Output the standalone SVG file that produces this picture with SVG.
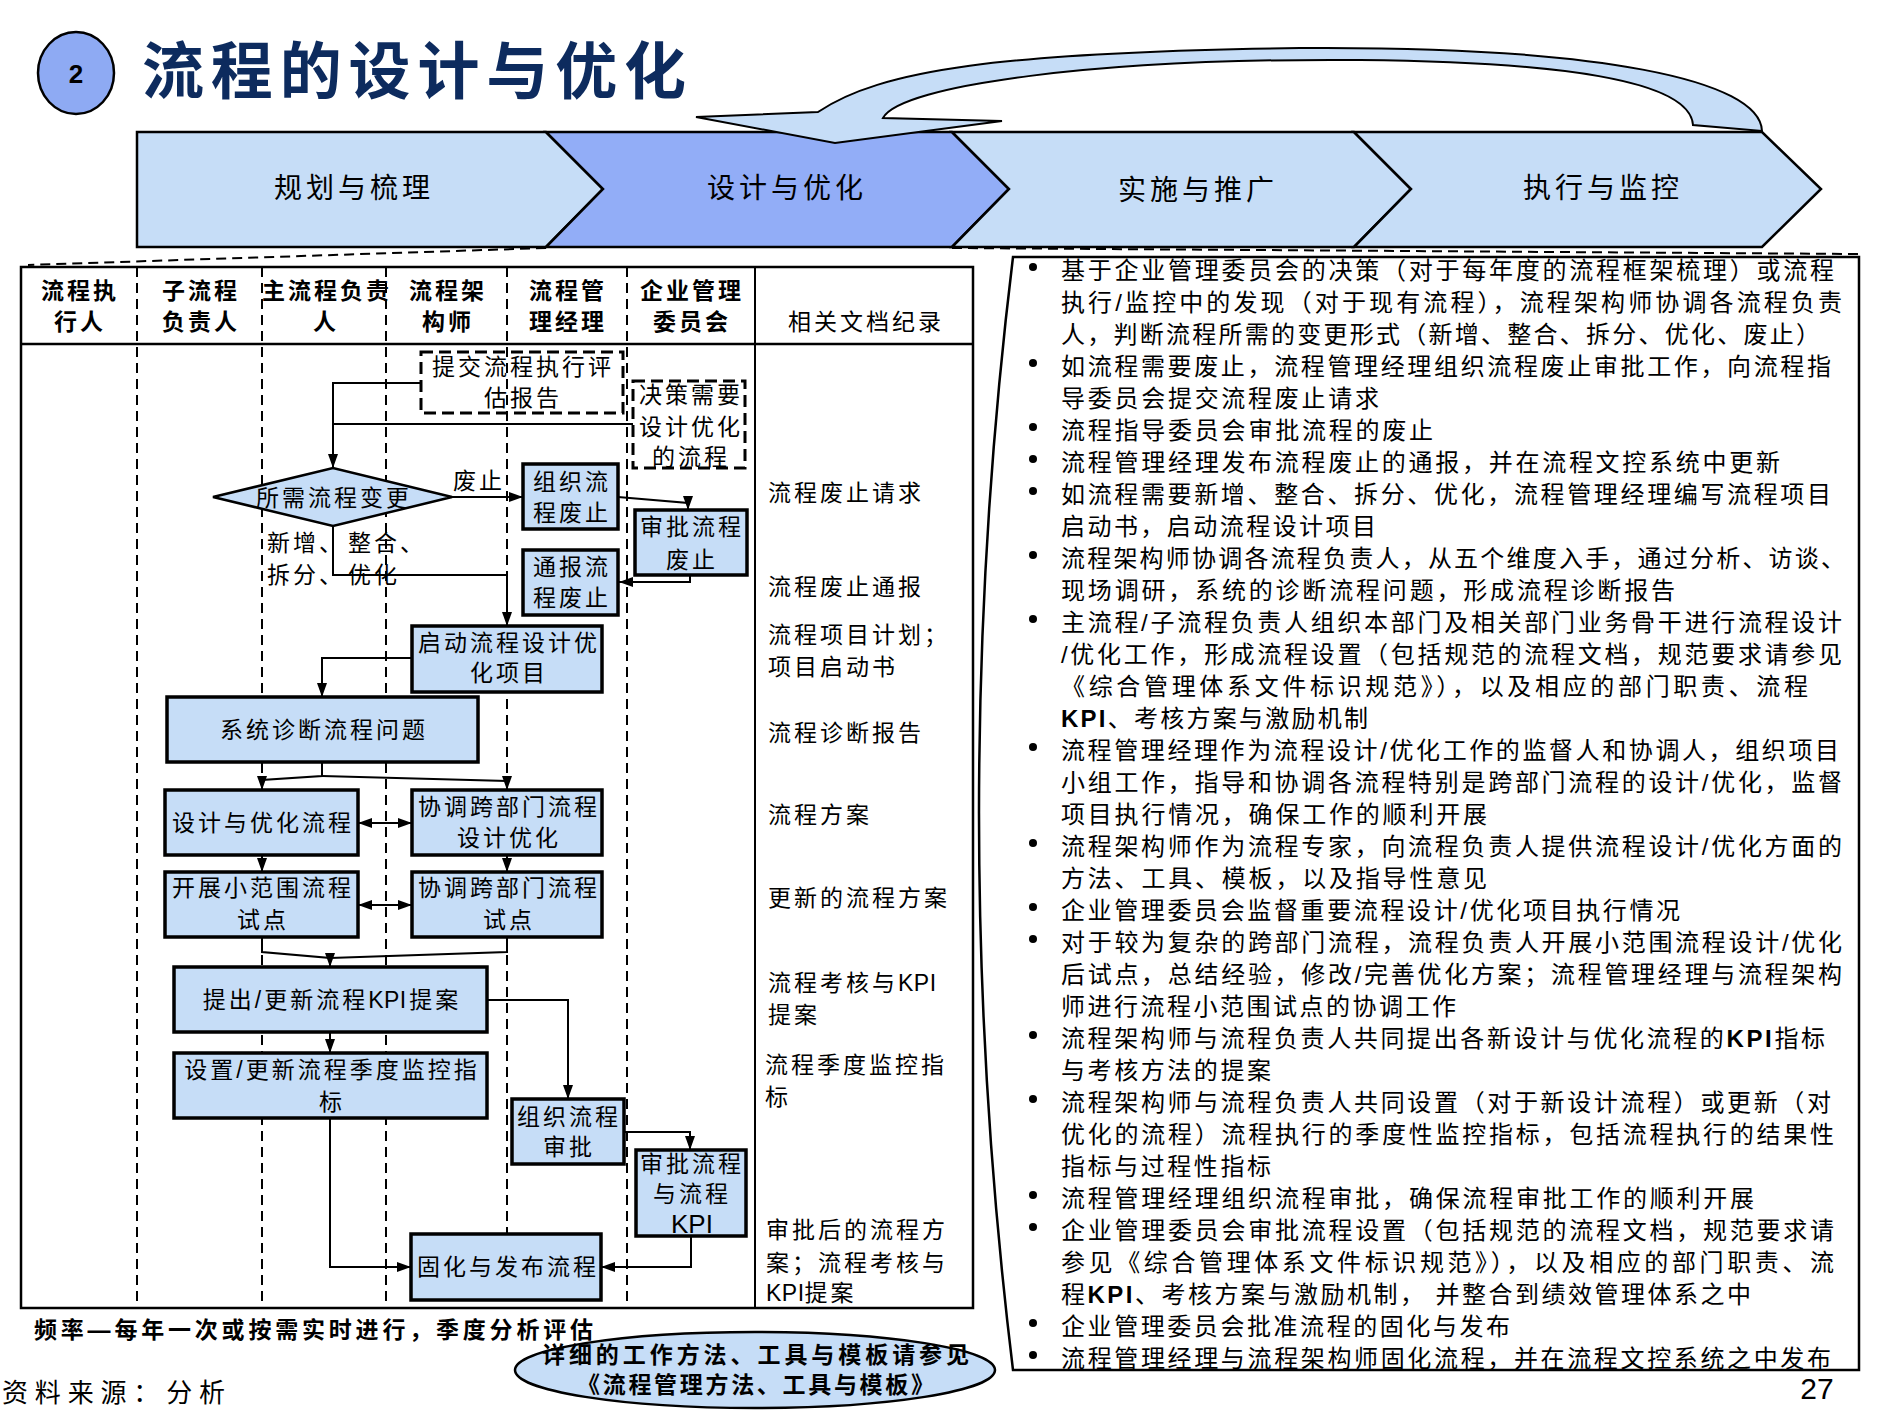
<svg xmlns="http://www.w3.org/2000/svg" width="1881" height="1411" viewBox="0 0 1881 1411">
<defs>
<style>
text{font-family:'Liberation Sans','Noto Sans CJK SC',sans-serif;fill:#000;dominant-baseline:central}
.nt{font-size:23px;letter-spacing:3px;text-anchor:middle}
.hd{font-size:23px;font-weight:bold;letter-spacing:3px;text-anchor:middle}
.dt{font-size:23px;letter-spacing:3px}
.bl{font-size:24px}
.ch{font-size:28px;letter-spacing:4px;text-anchor:middle}
.box{fill:#c6ddf7;stroke:#000;stroke-width:3.5}
.dbox{fill:none;stroke:#000;stroke-width:3;stroke-dasharray:12 6}
.col{stroke:#000;stroke-width:2;stroke-dasharray:10 6}
.cn{fill:none;stroke:#000;stroke-width:2}
.chev{fill:#c6ddf7;stroke:#000;stroke-width:2.5}
.kb{font-weight:bold}
.k0{letter-spacing:0.5px}
</style>
<marker id="ah" viewBox="0 0 14 10" refX="14" refY="5" markerWidth="14" markerHeight="10" markerUnits="userSpaceOnUse" orient="auto-start-reverse">
<path d="M0,0 L14,5 L0,10 Z" fill="#000"/>
</marker>
</defs>
<rect width="1881" height="1411" fill="#fff"/>

<g id="title">
<ellipse cx="76" cy="73" rx="38" ry="41" fill="#8eaaf3" stroke="#000" stroke-width="2.5"/>
<text x="76" y="74" font-size="26" font-weight="bold" text-anchor="middle">2</text>
<text x="142" y="72" font-size="62" font-weight="bold" style="fill:#0d2b5e" textLength="544" lengthAdjust="spacing">流程的设计与优化</text>
</g>

<g id="phases">
<path class="chev" d="M137,132 H546 L603,189 L546,247 H137 Z"/>
<path class="chev" style="fill:#92adf7" d="M546,132 H952 L1009,189 L952,247 H546 L603,189 Z"/>
<path class="chev" d="M952,132 H1354 L1411,189 L1354,247 H952 L1009,189 Z"/>
<path class="chev" d="M1354,132 H1762 L1821,189 L1762,247 H1354 L1411,189 Z"/>
<text class="ch" x="354" y="188">规划与梳理</text>
<text class="ch" x="787" y="188">设计与优化</text>
<text class="ch" x="1198" y="190">实施与推广</text>
<text class="ch" x="1603" y="188">执行与监控</text>
<path d="M818,112 C880,70 1000,52 1300,48 C1600,46 1760,80 1762,131 L1693,125 C1690,80 1560,62 1360,60 C1100,58 900,85 883,118 L1002,121 L835,143 L696,117 Z" fill="#c6ddf7" stroke="#000" stroke-width="2"/>
<line class="col" x1="546" y1="248" x2="28" y2="265"/>
<line class="col" x1="952" y1="248" x2="1858" y2="254"/>
</g>

<g id="table">
<rect x="21" y="267" width="952" height="1041" fill="none" stroke="#000" stroke-width="2.5"/>
<line x1="21" y1="344" x2="973" y2="344" stroke="#000" stroke-width="2.5"/>
<line x1="755" y1="267" x2="755" y2="1308" stroke="#000" stroke-width="2"/>
<line class="col" x1="137" y1="267" x2="137" y2="1308"/>
<line class="col" x1="262" y1="267" x2="262" y2="1308"/>
<line class="col" x1="386" y1="267" x2="386" y2="1308"/>
<line class="col" x1="507" y1="267" x2="507" y2="1308"/>
<line class="col" x1="627" y1="267" x2="627" y2="1308"/>
<text class="hd" x="80" y="291">流程执</text><text class="hd" x="80" y="322">行人</text>
<text class="hd" x="201" y="291">子流程</text><text class="hd" x="201" y="322">负责人</text>
<text class="hd" x="327" y="291">主流程负责</text><text class="hd" x="326" y="322">人</text>
<text class="hd" x="448" y="291">流程架</text><text class="hd" x="448" y="322">构师</text>
<text class="hd" x="568" y="291">流程管</text><text class="hd" x="568" y="322">理经理</text>
<text class="hd" x="692" y="291">企业管理</text><text class="hd" x="692" y="322">委员会</text>
<text class="nt" x="866" y="322">相关文档纪录</text>
</g>

<g id="connectors">
<path class="cn" d="M421,383 H333 V468" marker-end="url(#ah)"/>
<path class="cn" d="M633,424 H333"/>
<path class="cn" d="M452,497 H523" marker-end="url(#ah)"/>
<path class="cn" d="M618,497 L688,503 V510" marker-end="url(#ah)"/>
<path class="cn" d="M690,575 V582 H619" marker-end="url(#ah)"/>
<path class="cn" d="M333,526 V575 H507 V626" marker-end="url(#ah)"/>
<path class="cn" d="M412,658 H322 V697" marker-end="url(#ah)"/>
<path class="cn" d="M322,762 V776 L262,780 V790" marker-end="url(#ah)"/>
<path class="cn" d="M322,776 L507,781 V790" marker-end="url(#ah)"/>
<path class="cn" d="M358,823 H412" marker-start="url(#ah)" marker-end="url(#ah)"/>
<path class="cn" d="M262,855 V872" marker-end="url(#ah)"/>
<path class="cn" d="M507,855 V872" marker-end="url(#ah)"/>
<path class="cn" d="M358,905 H412" marker-start="url(#ah)" marker-end="url(#ah)"/>
<path class="cn" d="M262,937 V952 L330,958 V967" marker-end="url(#ah)"/>
<path class="cn" d="M507,937 V952 L330,958"/>
<path class="cn" d="M330,1032 V1053" marker-end="url(#ah)"/>
<path class="cn" d="M487,1000 H568 V1099" marker-end="url(#ah)"/>
<path class="cn" d="M624,1132 H690 V1150" marker-end="url(#ah)"/>
<path class="cn" d="M330,1118 V1267 H411" marker-end="url(#ah)"/>
<path class="cn" d="M691,1236 V1267 H601" marker-end="url(#ah)"/>
<text class="nt" x="479" y="481">废止</text>
<text class="dt" x="267" y="543">新增、</text>
<text class="dt" x="267" y="575">拆分、</text>
<text class="dt" x="348" y="543">整合、</text>
<text class="dt" x="348" y="575">优化</text>
</g>

<g id="n-report">
<rect class="dbox" x="421" y="352" width="202" height="61"/>
<text class="nt" x="523" y="367">提交流程执行评</text>
<text class="nt" x="523" y="398">估报告</text>
</g>
<g id="n-decision">
<rect class="dbox" x="633" y="381" width="112" height="87"/>
<text class="nt" x="691" y="395">决策需要</text>
<text class="nt" x="691" y="427">设计优化</text>
<text class="nt" x="691" y="457">的流程</text>
</g>
<g id="n-change">
<path class="box" style="stroke-width:2.5" d="M213,497 L333,468 L452,497 L333,526 Z"/>
<text class="nt" x="334" y="498">所需流程变更</text>
</g>
<g id="n-org-abolish">
<rect class="box" x="523" y="464" width="95" height="65"/>
<text class="nt" x="572" y="482">组织流</text>
<text class="nt" x="572" y="513">程废止</text>
</g>
<g id="n-approve-abolish">
<rect class="box" x="635" y="510" width="112" height="65"/>
<text class="nt" x="692" y="527">审批流程</text>
<text class="nt" x="692" y="560">废止</text>
</g>
<g id="n-notify-abolish">
<rect class="box" x="523" y="550" width="95" height="65"/>
<text class="nt" x="572" y="567">通报流</text>
<text class="nt" x="572" y="598">程废止</text>
</g>
<g id="n-start">
<rect class="box" x="412" y="626" width="190" height="66"/>
<text class="nt" x="509" y="643">启动流程设计优</text>
<text class="nt" x="509" y="673">化项目</text>
</g>
<g id="n-diagnose">
<rect class="box" x="167" y="697" width="311" height="65"/>
<text class="nt" x="324" y="730">系统诊断流程问题</text>
</g>
<g id="n-design">
<rect class="box" x="165" y="790" width="193" height="65"/>
<text class="nt" x="263" y="823">设计与优化流程</text>
</g>
<g id="n-coord-design">
<rect class="box" x="412" y="790" width="190" height="65"/>
<text class="nt" x="509" y="807">协调跨部门流程</text>
<text class="nt" x="509" y="838">设计优化</text>
</g>
<g id="n-pilot">
<rect class="box" x="165" y="872" width="193" height="65"/>
<text class="nt" x="263" y="888">开展小范围流程</text>
<text class="nt" x="263" y="920">试点</text>
</g>
<g id="n-coord-pilot">
<rect class="box" x="412" y="872" width="190" height="65"/>
<text class="nt" x="509" y="888">协调跨部门流程</text>
<text class="nt" x="509" y="920">试点</text>
</g>
<g id="n-kpi">
<rect class="box" x="174" y="967" width="313" height="65"/>
<text class="nt" x="332" y="1000">提出/更新流程<tspan class="k0">KP</tspan>I提案</text>
</g>
<g id="n-monitor">
<rect class="box" x="174" y="1053" width="313" height="65"/>
<text class="nt" x="332" y="1070">设置/更新流程季度监控指</text>
<text class="nt" x="332" y="1102">标</text>
</g>
<g id="n-org-approve">
<rect class="box" x="512" y="1099" width="112" height="65"/>
<text class="nt" x="569" y="1117">组织流程</text>
<text class="nt" x="569" y="1147">审批</text>
</g>
<g id="n-approve-kpi">
<rect class="box" x="636" y="1150" width="110" height="86"/>
<text class="nt" x="692" y="1164">审批流程</text>
<text class="nt" x="692" y="1194">与流程</text>
<text class="nt" x="692" y="1224" style="font-size:26px;letter-spacing:0">KPI</text>
</g>
<g id="n-publish">
<rect class="box" x="411" y="1234" width="190" height="66"/>
<text class="nt" x="508" y="1267">固化与发布流程</text>
</g>

<g id="docs">
<text class="dt" x="768" y="493">流程废止请求</text>
<text class="dt" x="768" y="587">流程废止通报</text>
<text class="dt" x="768" y="635">流程项目计划；</text>
<text class="dt" x="768" y="667">项目启动书</text>
<text class="dt" x="768" y="733">流程诊断报告</text>
<text class="dt" x="768" y="815">流程方案</text>
<text class="dt" x="768" y="898">更新的流程方案</text>
<text class="dt" x="768" y="983">流程考核与<tspan class="k0">KPI</tspan></text>
<text class="dt" x="768" y="1015">提案</text>
<text class="dt" x="765" y="1065">流程季度监控指</text>
<text class="dt" x="765" y="1097">标</text>
<text class="dt" x="766" y="1230">审批后的流程方</text>
<text class="dt" x="766" y="1263">案；流程考核与</text>
<text class="dt" x="766" y="1293"><tspan class="k0">KPI</tspan>提案</text>
</g>

<g id="notes">
<path d="M1013,257 H1859 V1370 H1013 Q945,813 1013,257 Z" fill="#fff" stroke="#000" stroke-width="2.5"/>
<g fill="#000">
<circle cx="1033" cy="267" r="4"/><circle cx="1033" cy="363" r="4"/><circle cx="1033" cy="427" r="4"/>
<circle cx="1033" cy="459" r="4"/><circle cx="1033" cy="491" r="4"/><circle cx="1033" cy="555" r="4"/>
<circle cx="1033" cy="619" r="4"/><circle cx="1033" cy="747" r="4"/><circle cx="1033" cy="843" r="4"/>
<circle cx="1033" cy="907" r="4"/><circle cx="1033" cy="939" r="4"/><circle cx="1033" cy="1035" r="4"/>
<circle cx="1033" cy="1099" r="4"/><circle cx="1033" cy="1195" r="4"/><circle cx="1033" cy="1227" r="4"/>
<circle cx="1033" cy="1323" r="4"/><circle cx="1033" cy="1355" r="4"/>
</g>
<text class="bl" x="1061" y="270" textLength="773" lengthAdjust="spacing">基于企业管理委员会的决策（对于每年度的流程框架梳理）或流程</text>
<text class="bl" x="1061" y="302" textLength="781" lengthAdjust="spacing">执行/监控中的发现（对于现有流程），流程架构师协调各流程负责</text>
<text class="bl" x="1061" y="334" textLength="759" lengthAdjust="spacing">人，判断流程所需的变更形式（新增、整合、拆分、优化、废止）</text>
<text class="bl" x="1061" y="366" textLength="770" lengthAdjust="spacing">如流程需要废止，流程管理经理组织流程废止审批工作，向流程指</text>
<text class="bl" x="1061" y="398" textLength="318" lengthAdjust="spacing">导委员会提交流程废止请求</text>
<text class="bl" x="1061" y="430" textLength="372" lengthAdjust="spacing">流程指导委员会审批流程的废止</text>
<text class="bl" x="1061" y="462" textLength="719" lengthAdjust="spacing">流程管理经理发布流程废止的通报，并在流程文控系统中更新</text>
<text class="bl" x="1061" y="494" textLength="770" lengthAdjust="spacing">如流程需要新增、整合、拆分、优化，流程管理经理编写流程项目</text>
<text class="bl" x="1061" y="526" textLength="315" lengthAdjust="spacing">启动书，启动流程设计项目</text>
<text class="bl" x="1061" y="558" textLength="784" lengthAdjust="spacing">流程架构师协调各流程负责人，从五个维度入手，通过分析、访谈、</text>
<text class="bl" x="1061" y="590" textLength="614" lengthAdjust="spacing">现场调研，系统的诊断流程问题，形成流程诊断报告</text>
<text class="bl" x="1061" y="622" textLength="781" lengthAdjust="spacing">主流程/子流程负责人组织本部门及相关部门业务骨干进行流程设计</text>
<text class="bl" x="1061" y="654" textLength="781" lengthAdjust="spacing">/优化工作，形成流程设置（包括规范的流程文档，规范要求请参见</text>
<text class="bl" x="1061" y="686" textLength="747" lengthAdjust="spacing">《综合管理体系文件标识规范》），以及相应的部门职责、流程</text>
<text class="bl" x="1061" y="718" textLength="307" lengthAdjust="spacing"><tspan class="kb">KPI</tspan>、考核方案与激励机制</text>
<text class="bl" x="1061" y="750" textLength="778" lengthAdjust="spacing">流程管理经理作为流程设计/优化工作的监督人和协调人，组织项目</text>
<text class="bl" x="1061" y="782" textLength="781" lengthAdjust="spacing">小组工作，指导和协调各流程特别是跨部门流程的设计/优化，监督</text>
<text class="bl" x="1061" y="814" textLength="426" lengthAdjust="spacing">项目执行情况，确保工作的顺利开展</text>
<text class="bl" x="1061" y="846" textLength="781" lengthAdjust="spacing">流程架构师作为流程专家，向流程负责人提供流程设计/优化方面的</text>
<text class="bl" x="1061" y="878" textLength="426" lengthAdjust="spacing">方法、工具、模板，以及指导性意见</text>
<text class="bl" x="1061" y="910" textLength="619" lengthAdjust="spacing">企业管理委员会监督重要流程设计/优化项目执行情况</text>
<text class="bl" x="1061" y="942" textLength="781" lengthAdjust="spacing">对于较为复杂的跨部门流程，流程负责人开展小范围流程设计/优化</text>
<text class="bl" x="1061" y="974" textLength="781" lengthAdjust="spacing">后试点，总结经验，修改/完善优化方案；流程管理经理与流程架构</text>
<text class="bl" x="1061" y="1006" textLength="395" lengthAdjust="spacing">师进行流程小范围试点的协调工作</text>
<text class="bl" x="1061" y="1038" textLength="764" lengthAdjust="spacing">流程架构师与流程负责人共同提出各新设计与优化流程的<tspan class="kb">KPI</tspan>指标</text>
<text class="bl" x="1061" y="1070" textLength="210" lengthAdjust="spacing">与考核方法的提案</text>
<text class="bl" x="1061" y="1102" textLength="770" lengthAdjust="spacing">流程架构师与流程负责人共同设置（对于新设计流程）或更新（对</text>
<text class="bl" x="1061" y="1134" textLength="773" lengthAdjust="spacing">优化的流程）流程执行的季度性监控指标，包括流程执行的结果性</text>
<text class="bl" x="1061" y="1166" textLength="210" lengthAdjust="spacing">指标与过程性指标</text>
<text class="bl" x="1061" y="1198" textLength="693" lengthAdjust="spacing">流程管理经理组织流程审批，确保流程审批工作的顺利开展</text>
<text class="bl" x="1061" y="1230" textLength="773" lengthAdjust="spacing">企业管理委员会审批流程设置（包括规范的流程文档，规范要求请</text>
<text class="bl" x="1061" y="1262" textLength="773" lengthAdjust="spacing">参见《综合管理体系文件标识规范》），以及相应的部门职责、流</text>
<text class="bl" x="1061" y="1294" textLength="690" lengthAdjust="spacing">程<tspan class="kb">KPI</tspan>、考核方案与激励机制， 并整合到绩效管理体系之中</text>
<text class="bl" x="1061" y="1326" textLength="449" lengthAdjust="spacing">企业管理委员会批准流程的固化与发布</text>
<text class="bl" x="1061" y="1358" textLength="770" lengthAdjust="spacing">流程管理经理与流程架构师固化流程，并在流程文控系统之中发布</text>
</g>

<g id="footer">
<text x="34" y="1330" font-size="23" font-weight="bold" textLength="559" lengthAdjust="spacing">频率—每年一次或按需实时进行，季度分析评估</text>
<text x="2" y="1393" font-size="26" textLength="223" lengthAdjust="spacing">资料来源：分析</text>
<ellipse cx="755" cy="1370" rx="240" ry="38" fill="#c6ddf7" stroke="#000" stroke-width="2.5"/>
<text x="542" y="1355" font-size="23" font-weight="bold" textLength="427" lengthAdjust="spacing">详细的工作方法、工具与模板请参见</text>
<text x="577" y="1385" font-size="23" font-weight="bold" textLength="357" lengthAdjust="spacing">《流程管理方法、工具与模板》</text>
<text x="1817" y="1388" font-size="30" text-anchor="middle">27</text>
</g>
</svg>
